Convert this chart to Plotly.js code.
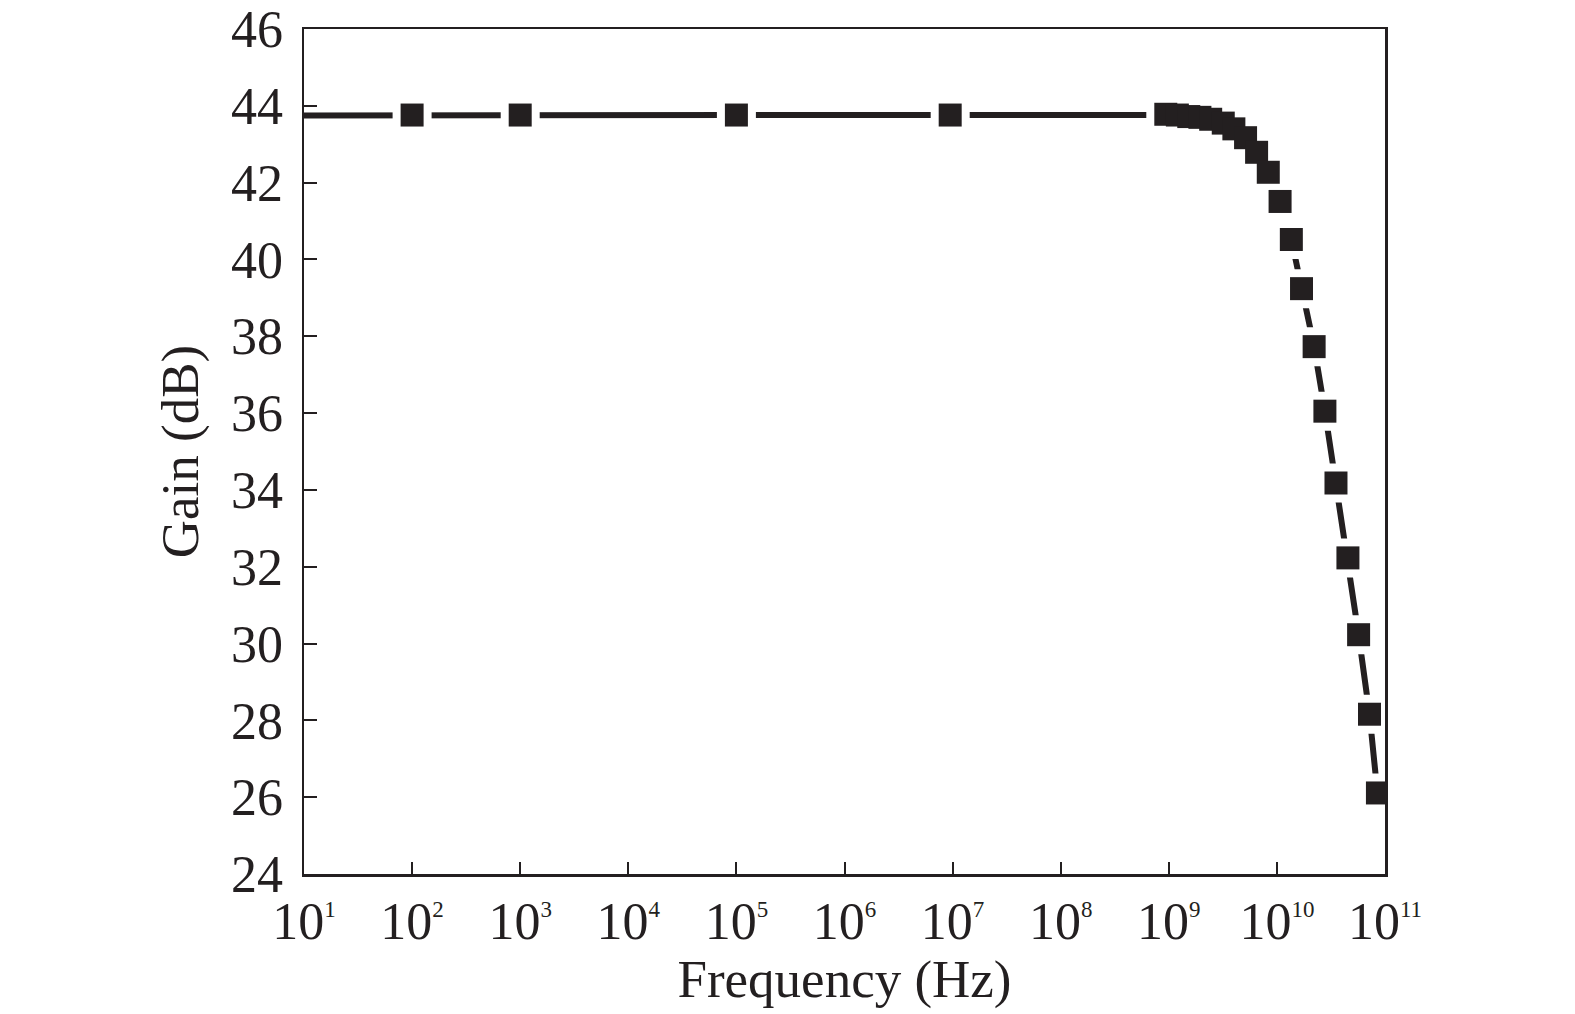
<!DOCTYPE html>
<html>
<head>
<meta charset="utf-8">
<script src="https://cdn.plot.ly/plotly-3.0.1.min.js"></script>
<style>html,body{margin:0;padding:0;background:#fff;}#chart{width:1575px;height:1014px;}</style>
</head>
<body>
<div id="chart"></div>
<script>
// Frequency (Hz) and gain (dB)
const freq = [10, 100, 1000, 1e5, 9.5e6,
  9.38e8, 1.20e9, 1.53e9, 1.94e9, 2.44e9, 3.19e9, 4.00e9, 5.13e9, 6.49e9, 8.32e9,
  1.07e10, 1.36e10, 1.69e10, 2.21e10, 2.78e10, 3.52e10, 4.54e10, 5.70e10, 7.19e10, 8.51e10];
const gain = [43.75, 43.76, 43.76, 43.76, 43.76,
  43.78, 43.76, 43.72, 43.70, 43.65, 43.55, 43.40, 43.17, 42.79, 42.27,
  41.51, 40.52, 39.24, 37.73, 36.05, 34.18, 32.23, 30.23, 28.16, 26.11];
// first point has no symbol
const markerFreq = freq.slice(1);
const markerGain = gain.slice(1);

const xExponents = [1, 2, 3, 4, 5, 6, 7, 8, 9, 10, 11];
const yTicks = [24, 26, 28, 30, 32, 34, 36, 38, 40, 42, 44, 46];

const ink = '#231f20';
const fontFam = '"Liberation Serif", "Times New Roman", serif';

const traces = [
  {x: freq, y: gain, mode: 'lines', line: {color: ink, width: 6}, hoverinfo: 'skip', showlegend: false},
  {x: markerFreq, y: markerGain, mode: 'markers',
   marker: {symbol: 'square', size: 39, color: '#ffffff', line: {width: 0}}, hoverinfo: 'skip', showlegend: false},
  {x: markerFreq, y: markerGain, mode: 'markers',
   marker: {symbol: 'square', size: 23, color: ink, line: {width: 0}}, showlegend: false}
];

const layout = {
  width: 1575, height: 1014,
  margin: {l: 304, r: 190, t: 29, b: 140},
  paper_bgcolor: '#ffffff', plot_bgcolor: '#ffffff',
  font: {family: fontFam, color: ink, size: 52},
  showlegend: false,
  xaxis: {
    type: 'log', range: [1, 11],
    tickvals: xExponents.map(e => Math.pow(10, e)),
    ticktext: xExponents.map(e => '10<sup><span style="font-size:23px">' + e + '</span></sup>'),
    ticks: 'inside', ticklen: 12, tickwidth: 2, tickcolor: ink,
    showline: true, linewidth: 2.5, linecolor: ink, mirror: true,
    showgrid: false, zeroline: false,
    tickfont: {family: fontFam, size: 52, color: ink},
    title: {text: 'Frequency (Hz)', font: {family: fontFam, size: 53, color: ink}, standoff: 6}
  },
  yaxis: {
    range: [24, 46],
    tickvals: yTicks,
    ticks: 'inside', ticklen: 13, tickwidth: 2, tickcolor: ink,
    showline: true, linewidth: 2.5, linecolor: ink, mirror: true,
    showgrid: false, zeroline: false,
    ticklabelstandoff: 8,
    tickfont: {family: fontFam, size: 52, color: ink},
    title: {text: 'Gain (dB)', font: {family: fontFam, size: 53, color: ink}, standoff: 16}
  }
};

Plotly.newPlot('chart', traces, layout, {displayModeBar: false, staticPlot: true});
</script>
</body>
</html>
